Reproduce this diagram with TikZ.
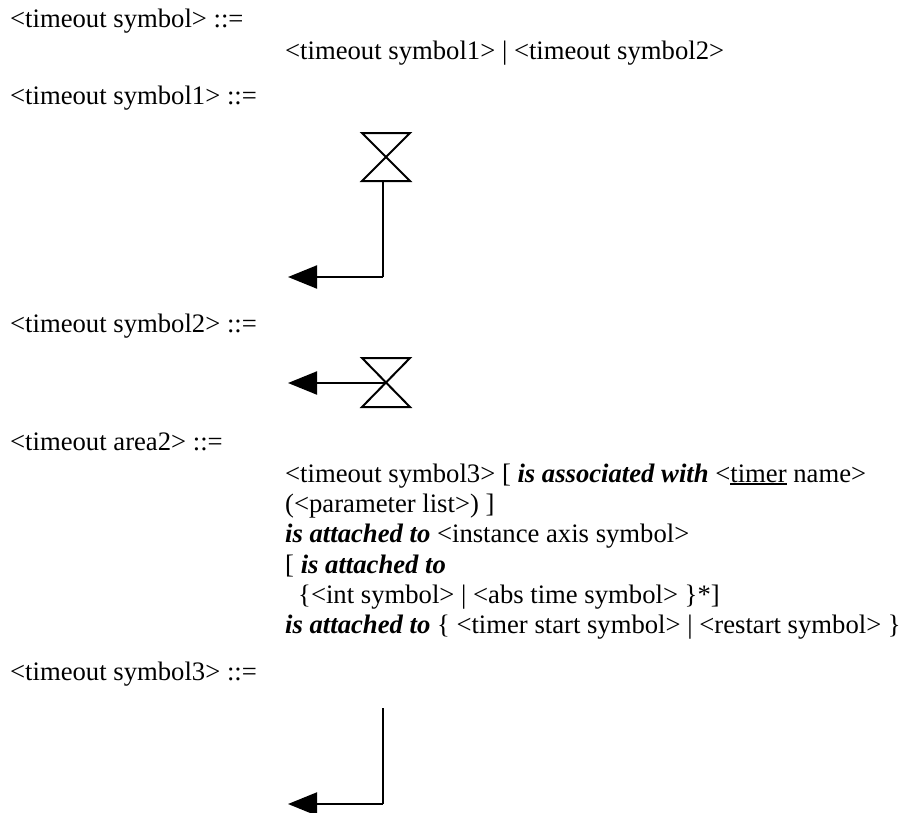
\documentclass[tikz,border=0pt]{standalone}
\usepackage{fontspec}
\setmainfont{Liberation Serif}
\usetikzlibrary{arrows.meta, positioning}
\newcommand{\kw}[1]{\textbf{\textit{#1}}}
\newcommand{\ul}[1]{\setbox0\hbox{#1}\rlap{\rule[-3.2pt]{\wd0}{1.8pt}}\box0\relax}

\begin{document}
\begin{tikzpicture}[
    x=1pt, y=-1pt,
    txt/.style={anchor=base west, inner sep=0pt, font=\fontsize{26.67}{30}\selectfont},
    sym/.style={line width=2pt},
    arr/.style={sym, -{Triangle[length=29pt, width=23pt]}, shorten >=0pt}
  ]
  \useasboundingbox (0,0) rectangle (900,812);

  \node[txt] (rule) at (10,27) {<timeout symbol> ::=};
  \node[txt] (alt) at (285,59) {<timeout symbol1> | <timeout symbol2>};
  \node[txt] (rule1) at (10,104) {<timeout symbol1> ::=};
  \node[txt] (rule2) at (10,332) {<timeout symbol2> ::=};
  \node[txt] (area) at (10,450) {<timeout area2> ::=};

  \node[txt] (l1) at (285,482) {<timeout symbol3> [ \kw{is associated with} <\ul{timer} name>};
  \node[txt] (l2) at (285,512) {(<parameter list>) ]};
  \node[txt] (l3) at (285,542) {\kw{is attached to} <instance axis symbol>};
  \node[txt] (l4) at (285,573) {[ \kw{is attached to}};
  \node[txt] (l5) at (285,603) {\hspace*{13pt}\{<int symbol> | <abs time symbol> \}*]};
  \node[txt] (l6) at (285,633) {\kw{is attached to} \{ <timer start symbol> | <restart symbol> \}};

  \node[txt] (rule3) at (10,680) {<timeout symbol3> ::=};

  % symbol1
  \coordinate (a1) at (362,133);
  \coordinate (b1) at (410,133);
  \coordinate (c1) at (362,181);
  \coordinate (d1) at (410,181);
  \coordinate (s1) at (383,181);
  \coordinate (e1) at (383,277);
  \coordinate (t1) at (288,277);
  \draw[sym] (a1) -- (b1) -- (c1) -- (d1) -- cycle;
  \draw[sym] (s1) -- (e1);
  \draw[arr] (e1) -- (t1);

  % symbol2
  \coordinate (a2) at (362,358);
  \coordinate (b2) at (410,358);
  \coordinate (c2) at (362,407);
  \coordinate (d2) at (410,407);
  \coordinate (e2) at (386,383);
  \coordinate (t2) at (288,383);
  \draw[sym] (a2) -- (b2) -- (c2) -- (d2) -- cycle;
  \draw[arr] (e2) -- (t2);

  % symbol3
  \coordinate (s3) at (383,708);
  \coordinate (e3) at (383,804);
  \coordinate (t3) at (288,804);
  \draw[sym] (s3) -- (e3);
  \draw[arr] (e3) -- (t3);

\end{tikzpicture}
\end{document}
